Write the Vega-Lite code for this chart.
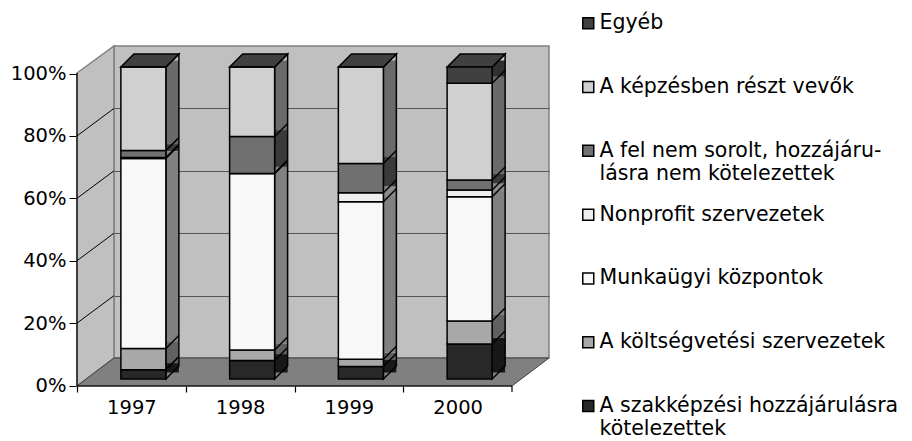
{
  "$schema": "https://vega.github.io/schema/vega-lite/v6.json",
  "autosize": {"type": "none"},
  "padding": {"left": 114, "top": 46, "right": 363, "bottom": 83},
  "width": 435,
  "height": 312,
  "config": {
    "font": "DejaVu Sans",
    "view": {"fill": "#c0c0c0", "stroke": "#808080", "strokeWidth": 1.5},
    "scale": {"bandPaddingInner": 0, "bandPaddingOuter": 0, "barBandPaddingInner": 0, "rectBandPaddingInner": 0},
    "style": {"guide-label": {"lineHeight": 23}}
  },
  "datasets": {
    "shares": [
      {"year": "1997", "series": "A szakképzési hozzájárulásra kötelezettek", "k": 1, "value": 3.0},
      {"year": "1997", "series": "A költségvetési szervezetek", "k": 2, "value": 6.8},
      {"year": "1997", "series": "Munkaügyi központok", "k": 3, "value": 60.9},
      {"year": "1997", "series": "Nonprofit szervezetek", "k": 4, "value": 0.3},
      {"year": "1997", "series": "A fel nem sorolt, hozzájárulásra nem kötelezettek", "k": 5, "value": 2.2},
      {"year": "1997", "series": "A képzésben részt vevők", "k": 6, "value": 26.8},
      {"year": "1997", "series": "Egyéb", "k": 7, "value": 0.0},
      {"year": "1998", "series": "A szakképzési hozzájárulásra kötelezettek", "k": 1, "value": 5.9},
      {"year": "1998", "series": "A költségvetési szervezetek", "k": 2, "value": 3.4},
      {"year": "1998", "series": "Munkaügyi központok", "k": 3, "value": 56.6},
      {"year": "1998", "series": "Nonprofit szervezetek", "k": 4, "value": 0.0},
      {"year": "1998", "series": "A fel nem sorolt, hozzájárulásra nem kötelezettek", "k": 5, "value": 11.8},
      {"year": "1998", "series": "A képzésben részt vevők", "k": 6, "value": 22.3},
      {"year": "1998", "series": "Egyéb", "k": 7, "value": 0.0},
      {"year": "1999", "series": "A szakképzési hozzájárulásra kötelezettek", "k": 1, "value": 4.0},
      {"year": "1999", "series": "A költségvetési szervezetek", "k": 2, "value": 2.3},
      {"year": "1999", "series": "Munkaügyi központok", "k": 3, "value": 50.5},
      {"year": "1999", "series": "Nonprofit szervezetek", "k": 4, "value": 2.9},
      {"year": "1999", "series": "A fel nem sorolt, hozzájárulásra nem kötelezettek", "k": 5, "value": 9.4},
      {"year": "1999", "series": "A képzésben részt vevők", "k": 6, "value": 30.9},
      {"year": "1999", "series": "Egyéb", "k": 7, "value": 0.0},
      {"year": "2000", "series": "A szakképzési hozzájárulásra kötelezettek", "k": 1, "value": 11.2},
      {"year": "2000", "series": "A költségvetési szervezetek", "k": 2, "value": 7.4},
      {"year": "2000", "series": "Munkaügyi központok", "k": 3, "value": 39.8},
      {"year": "2000", "series": "Nonprofit szervezetek", "k": 4, "value": 2.2},
      {"year": "2000", "series": "A fel nem sorolt, hozzájárulásra nem kötelezettek", "k": 5, "value": 3.2},
      {"year": "2000", "series": "A képzésben részt vevők", "k": 6, "value": 31.0},
      {"year": "2000", "series": "Egyéb", "k": 7, "value": 5.2}
    ],
    "levels": [{"v": 0.2}, {"v": 0.4}, {"v": 0.6}, {"v": 0.8}],
    "frame": [{"part": "frame"}]
  },
  "resolve": {
    "scale": {"x": "independent", "color": "independent"},
    "axis": {"x": "independent", "y": "independent"}
  },
  "layer": [
    {
      "data": {"name": "frame"},
      "mark": {"type": "point", "shape": "M-0.1088,-0.8412L0.1088,-1L0.1088,0.8353L-0.1088,1Z", "size": 115600, "filled": true, "fill": "#c0c0c0", "stroke": "#808080", "strokeWidth": 1.5, "opacity": 1, "xOffset": -18.5, "yOffset": 14},
      "encoding": {
        "x": {"datum": 0, "type": "quantitative", "scale": {"domain": [0, 1]}, "axis": null},
        "y": {"datum": 0.5, "type": "quantitative", "scale": {"domain": [0, 1], "nice": false}, "axis": null}
      }
    },
    {
      "data": {"name": "frame"},
      "mark": {"type": "point", "shape": "M-1,0.0593L0.8432,0.0593L1,-0.0593L-0.8432,-0.0593Z", "size": 222784, "filled": true, "fill": "#808080", "stroke": "#404040", "strokeWidth": 1, "opacity": 1, "xOffset": -18.5, "yOffset": 14},
      "encoding": {
        "x": {"datum": 0.5, "type": "quantitative", "scale": {"domain": [0, 1]}, "axis": null},
        "y": {"datum": 0, "type": "quantitative", "scale": {"domain": [0, 1], "nice": false}, "axis": null}
      }
    },
    {
      "data": {"name": "levels"},
      "mark": {"type": "rule", "color": "black", "strokeWidth": 1, "xOffset": -37, "x2Offset": 0, "yOffset": 27.5, "y2Offset": 0},
      "encoding": {
        "x": {"datum": 0, "type": "quantitative", "scale": {"domain": [0, 1]}, "axis": null},
        "x2": {"datum": 0},
        "y": {"field": "v", "type": "quantitative", "scale": {"domain": [0, 1], "nice": false}, "axis": null},
        "y2": {"field": "v"}
      }
    },
    {
      "data": {"name": "frame"},
      "mark": {"type": "rule", "color": "black", "strokeWidth": 1.2, "xOffset": -37, "yOffset": 28, "y2Offset": 27},
      "encoding": {
        "x": {"datum": 0, "type": "quantitative", "scale": {"domain": [0, 1]}, "axis": null},
        "y": {"datum": 0, "type": "quantitative", "scale": {"domain": [0, 1], "nice": false}, "axis": null},
        "y2": {"datum": 1}
      }
    },
    {
      "data": {"name": "frame"},
      "mark": {"type": "rule", "color": "black", "strokeWidth": 1.2, "xOffset": -37, "x2Offset": -37, "yOffset": 28},
      "encoding": {
        "x": {"datum": 0, "type": "quantitative", "scale": {"domain": [0, 1]}, "axis": null},
        "x2": {"datum": 1},
        "y": {"datum": 0, "type": "quantitative", "scale": {"domain": [0, 1], "nice": false}, "axis": null}
      }
    },
    {
      "data": {"name": "frame"},
      "mark": {"type": "rule", "color": "black", "strokeWidth": 1.2, "xOffset": -37, "yOffset": 28, "y2Offset": 34},
      "encoding": {
        "x": {"datum": 1, "type": "quantitative", "scale": {"domain": [0, 1]}, "axis": null},
        "y": {"datum": 0, "type": "quantitative", "scale": {"domain": [0, 1], "nice": false}, "axis": null},
        "y2": {"datum": 0}
      }
    },
    {
      "data": {"name": "shares"},
      "transform": [{"stack": "value", "groupby": ["year"], "sort": [{"field": "k", "order": "ascending"}], "offset": "normalize", "as": ["y0", "y1"]}],
      "mark": {"type": "bar", "width": 13, "xOffset": 4, "yOffset": 14.5, "y2Offset": 14.5, "strokeWidth": 0},
      "encoding": {
        "x": {"field": "year", "type": "nominal", "axis": null},
        "y": {"field": "y0", "type": "quantitative", "scale": {"domain": [0, 1], "nice": false},
          "axis": {"orient": "left", "title": null, "offset": 37, "tickOffset": 27.5, "values": [0, 0.2, 0.4, 0.6, 0.8, 1], "format": "%", "grid": false, "domain": false, "ticks": true, "tickSize": 8, "tickColor": "black", "labelPadding": 3, "labelFontSize": 19.5, "labelColor": "black", "labelFlush": false, "labelOverlap": false}},
        "y2": {"field": "y1"},
        "color": {"field": "series", "type": "nominal", "legend": null,
          "scale": {"domain": ["Egyéb", "A képzésben részt vevők", "A fel nem sorolt, hozzájárulásra nem kötelezettek", "Nonprofit szervezetek", "Munkaügyi központok", "A költségvetési szervezetek", "A szakképzési hozzájárulásra kötelezettek"],
            "range": ["#303030", "#6a6a6a", "#3a3a3a", "#8a8a8a", "#808080", "#606060", "#181818"]}}
      }
    },
    {
      "data": {"name": "shares"},
      "transform": [{"stack": "value", "groupby": ["year"], "sort": [{"field": "k", "order": "ascending"}], "offset": "normalize", "as": ["y0", "y1"]}, {"filter": "datum.k < 7"}],
      "mark": {"type": "rule", "color": "black", "strokeWidth": 1.5, "xOffset": -2.5, "x2Offset": 10.5, "yOffset": 21, "y2Offset": 8},
      "encoding": {
        "x": {"field": "year", "type": "nominal", "scale": {"type": "point", "padding": 0.5}, "axis": null},
        "x2": {"field": "year"},
        "y": {"field": "y1", "type": "quantitative", "scale": {"domain": [0, 1], "nice": false}, "axis": null},
        "y2": {"field": "y1"}
      }
    },
    {
      "data": {"name": "shares"},
      "transform": [{"filter": "datum.k == 7"}],
      "mark": {"type": "point", "shape": "M-0.04,1L-0.04,-0.92L0.04,-1L0.04,0.92Z", "size": 105625, "filled": false, "stroke": "black", "strokeWidth": 1.5, "opacity": 1, "xOffset": 4, "yOffset": 14.5},
      "encoding": {
        "x": {"field": "year", "type": "nominal", "scale": {"type": "point", "padding": 0.5}, "axis": null},
        "y": {"datum": 0.5, "type": "quantitative", "scale": {"domain": [0, 1], "nice": false}, "axis": null}
      }
    },
    {
      "data": {"name": "shares"},
      "transform": [{"filter": "datum.k == 7"}],
      "mark": {"type": "point", "shape": "M-1,0.2241L0.5517,0.2241L1,-0.2241L-0.5517,-0.2241Z", "size": 3364, "filled": true, "fill": "#404040", "stroke": "black", "strokeWidth": 1.5, "opacity": 1, "xOffset": -18.5, "yOffset": 14.5},
      "encoding": {
        "x": {"field": "year", "type": "nominal", "scale": {"type": "point", "padding": 0.5}, "axis": null},
        "y": {"datum": 1, "type": "quantitative", "scale": {"domain": [0, 1], "nice": false}, "axis": null}
      }
    },
    {
      "data": {"name": "shares"},
      "transform": [{"stack": "value", "groupby": ["year"], "sort": [{"field": "k", "order": "ascending"}], "offset": "normalize", "as": ["y0", "y1"]}],
      "mark": {"type": "bar", "width": 45, "xOffset": -25, "yOffset": 21, "y2Offset": 21, "stroke": "black", "strokeWidth": 1.5},
      "encoding": {
        "x": {"field": "year", "type": "nominal",
          "axis": {"title": null, "orient": "bottom", "offset": 28, "bandPosition": 0, "tickOffset": -37, "labelOffset": 0, "domain": false, "ticks": true, "tickSize": 6, "tickColor": "black", "tickWidth": 1.2, "labelAngle": 0, "labelPadding": 6, "labelFontSize": 19.5, "labelColor": "black", "grid": false}},
        "y": {"field": "y0", "type": "quantitative", "scale": {"domain": [0, 1], "nice": false},
          "axis": {"orient": "left", "title": null, "values": [0.2, 0.4, 0.6, 0.8], "grid": true, "gridColor": "#555555", "gridWidth": 1, "gridOpacity": 1, "labels": false, "ticks": false, "domain": false}},
        "y2": {"field": "y1"},
        "color": {"field": "series", "type": "nominal",
          "scale": {"domain": ["Egyéb", "A képzésben részt vevők", "A fel nem sorolt, hozzájárulásra nem kötelezettek", "Nonprofit szervezetek", "Munkaügyi központok", "A költségvetési szervezetek", "A szakképzési hozzájárulásra kötelezettek"],
            "range": ["#404040", "#d0d0d0", "#707070", "#efefef", "#f8f8f8", "#a8a8a8", "#282828"]},
          "legend": {"title": null, "orient": "none", "legendX": 464, "legendY": -33, "direction": "vertical", "columns": 1, "gridAlign": "all", "symbolType": "square", "symbolSize": 121, "symbolStrokeColor": "black", "symbolStrokeWidth": 1.5, "symbolOpacity": 1, "labelFontSize": 20.5, "labelColor": "black", "labelLimit": 0, "labelOffset": 1, "rowPadding": 19.8,
            "labelExpr": "datum.label == 'A fel nem sorolt, hozzájárulásra nem kötelezettek' ? ['A fel nem sorolt, hozzájáru-', 'lásra nem kötelezettek'] : datum.label == 'A szakképzési hozzájárulásra kötelezettek' ? ['A szakképzési hozzájárulásra', 'kötelezettek'] : datum.label"}}
      }
    }
  ]
}
